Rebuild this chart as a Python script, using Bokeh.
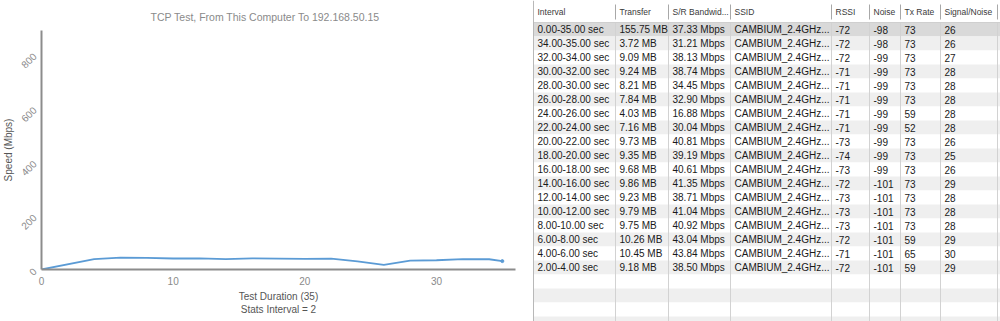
import math
from bokeh.plotting import figure
from bokeh.layouts import row
from bokeh.models import Range1d, FixedTicker, ColumnDataSource
from bokeh.embed import file_html
from bokeh.resources import INLINE
from bokeh.core.properties import value

# ---------------- data ----------------
time_s = [0, 4, 6, 8, 10, 12, 14, 16, 18, 20, 22, 24, 26, 28, 30, 32, 34, 35]
speed_mbps = [0, 38.50, 43.84, 43.04, 40.92, 41.04, 38.71, 41.35, 40.61, 39.19,
              40.81, 30.04, 16.88, 32.90, 34.45, 38.74, 38.13, 31.21]
x_ticks = [0, 10, 20, 30]
y_ticks = [0, 200, 400, 600, 800]

headers = ["Interval", "Transfer", "S/R Bandwid...", "SSID", "RSSI", "Noise", "Tx Rate", "Signal/Noise"]
intervals = ["0.00-35.00 sec", "34.00-35.00 sec", "32.00-34.00 sec", "30.00-32.00 sec",
             "28.00-30.00 sec", "26.00-28.00 sec", "24.00-26.00 sec", "22.00-24.00 sec",
             "20.00-22.00 sec", "18.00-20.00 sec", "16.00-18.00 sec", "14.00-16.00 sec",
             "12.00-14.00 sec", "10.00-12.00 sec", "8.00-10.00 sec", "6.00-8.00 sec",
             "4.00-6.00 sec", "2.00-4.00 sec"]
transfer = ["155.75 MB", "3.72 MB", "9.09 MB", "9.24 MB", "8.21 MB", "7.84 MB", "4.03 MB",
            "7.16 MB", "9.73 MB", "9.35 MB", "9.68 MB", "9.86 MB", "9.23 MB", "9.79 MB",
            "9.75 MB", "10.26 MB", "10.45 MB", "9.18 MB"]
bandwidth = ["37.33 Mbps", "31.21 Mbps", "38.13 Mbps", "38.74 Mbps", "34.45 Mbps", "32.90 Mbps",
             "16.88 Mbps", "30.04 Mbps", "40.81 Mbps", "39.19 Mbps", "40.61 Mbps", "41.35 Mbps",
             "38.71 Mbps", "41.04 Mbps", "40.92 Mbps", "43.04 Mbps", "43.84 Mbps", "38.50 Mbps"]
ssid = ["CAMBIUM_2.4GHz..."] * 18
rssi = [-72, -72, -72, -71, -71, -71, -71, -71, -73, -74, -73, -72, -73, -73, -73, -72, -71, -72]
noise = [-98, -98, -99, -99, -99, -99, -99, -99, -99, -99, -99, -101, -101, -101, -101, -101, -101, -101]
tx_rate = [73, 73, 73, 73, 73, 73, 59, 52, 73, 73, 73, 73, 73, 73, 73, 59, 65, 59]
snr = [26, 26, 27, 28, 28, 28, 28, 28, 26, 25, 26, 29, 28, 28, 28, 29, 30, 29]

FONT = "Liberation Sans"

# ---------------- chart ----------------
p = figure(width=532, height=321, x_range=Range1d(0, 36), y_range=Range1d(0, 889),
           output_backend="svg", toolbar_location=None,
           min_border_left=40, min_border_right=17, min_border_top=29, min_border_bottom=52)
p.outline_line_color = None
p.xgrid.grid_line_color = None
p.ygrid.grid_line_color = None

p.title.text = "TCP Test,  From This Computer To 192.168.50.15"
p.title.align = "left"
p.title.offset = 109
p.title.standoff = 16
p.title.text_font = FONT
p.title.text_font_size = "10.5px"
p.title.text_font_style = "normal"
p.title.text_color = "#8a8a8a"

for ax in (p.xaxis[0], p.yaxis[0]):
    ax.axis_line_color = "#8c8c8c"
    ax.axis_line_width = 2
    ax.major_tick_line_color = None
    ax.minor_tick_line_color = None
    ax.major_label_text_font = FONT
    ax.major_label_text_font_size = "10px"
    ax.major_label_text_color = "#8a8a8a"
    ax.axis_label_text_font = FONT
    ax.axis_label_text_font_size = "10px"
    ax.axis_label_text_font_style = "normal"
    ax.axis_label_text_color = "#555555"

p.xaxis.ticker = FixedTicker(ticks=x_ticks)
p.yaxis.ticker = FixedTicker(ticks=y_ticks)
p.yaxis.major_label_orientation = math.pi / 4
p.xaxis.major_label_standoff = 1
p.yaxis.major_label_standoff = 1
p.xaxis.axis_label = "Test Duration (35)\nStats Interval = 2"
p.xaxis.axis_label_standoff = 3
p.yaxis.axis_label = "Speed (Mbps)"
p.yaxis.axis_label_standoff = 0

p.line(time_s, speed_mbps, line_color="#5b9bd5", line_width=1.8)
p.scatter(time_s[-1:], speed_mbps[-1:], size=3, color="#5b9bd5")

# ---------------- table ----------------
col_edges = [533, 615, 668, 730, 831, 869, 900, 940, 997]
header_h = 22
row_h = 14
n_bands = 22

t = figure(width=468, height=321, x_range=Range1d(532, 1000), y_range=Range1d(321, 0),
           output_backend="svg", toolbar_location=None, min_border=0,
           x_axis_type=None, y_axis_type=None)
t.outline_line_color = None
t.grid.visible = False

for fig in (p, t):
    try:
        fig.frame_align = False
    except Exception:
        pass

band_top = [header_h + row_h * i for i in range(n_bands)]
band_bottom = [b + row_h for b in band_top]
band_color = ["#d9d9d9" if i == 0 else ("#efefef" if i % 2 == 1 else "#ffffff") for i in range(n_bands)]
t.quad(left=[col_edges[0]] * n_bands, right=[1000] * n_bands, top=band_top, bottom=band_bottom,
       fill_color=band_color, line_color=None)

# vertical cell separators in body
t.segment(x0=col_edges[1:], y0=[header_h] * 8, x1=col_edges[1:], y1=[321] * 8,
          line_color="#d2d2d2", line_width=1)
# header separators
t.segment(x0=col_edges[1:], y0=[4] * 8, x1=col_edges[1:], y1=[19] * 8, line_color="#a8a8a8", line_width=1)
# header bottom line + left border
t.segment(x0=[col_edges[0]], y0=[header_h], x1=[1000], y1=[header_h], line_color="#cfcfcf", line_width=1)
t.segment(x0=[col_edges[0]], y0=[0], x1=[col_edges[0]], y1=[321], line_color="#b8b8b8", line_width=1)

# header texts
t.text(x=[e + 4 for e in col_edges[:-1]], y=[11] * 8, text=headers,
       text_font=value(FONT), text_font_size=value("8.5px"), text_baseline="middle",
       text_color="#3a3a3a")

columns = [intervals, transfer, bandwidth, ssid,
           [str(v) for v in rssi], [str(v) for v in noise],
           [str(v) for v in tx_rate], [str(v) for v in snr]]
row_y = [header_h + row_h * i + row_h / 2 for i in range(len(intervals))]
for ci, col in enumerate(columns):
    src = ColumnDataSource(dict(x=[col_edges[ci] + 4] * len(col), y=row_y, text=col))
    t.text(x="x", y="y", text="text", source=src,
           text_font=value(FONT), text_font_size=value("10px"), text_baseline="middle",
           text_color="#1a1a1a")

layout = row(p, t, spacing=0)
open("out.html", "w").write(file_html(layout, INLINE))
